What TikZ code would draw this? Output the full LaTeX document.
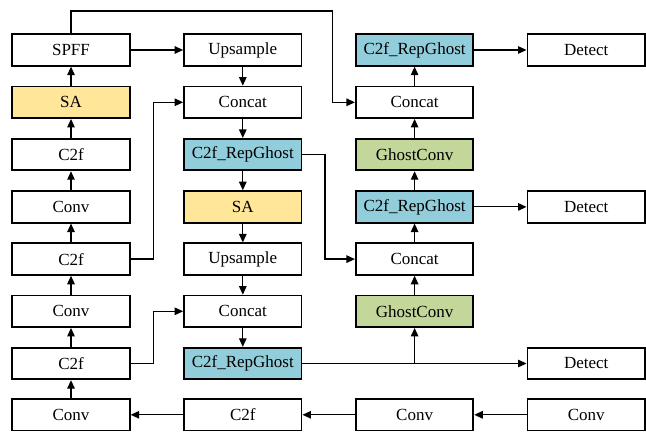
\documentclass[tikz,border=0pt]{standalone}
\usepackage{fontspec}
\setmainfont{Liberation Serif}
\newfontfamily\boxfont{Liberation Serif}
\usetikzlibrary{arrows.meta}
\definecolor{sayellow}{HTML}{FFE699}
\definecolor{rgblue}{HTML}{92CDDC}
\definecolor{ghgreen}{HTML}{C4D79B}
\tikzset{
  block/.style={draw=black, line width=1.8pt, minimum width=117.5pt, minimum height=31.5pt,
    inner sep=0pt, font=\boxfont\fontsize{17}{20}\selectfont, fill=white},
  saBlock/.style={block, fill=sayellow},
  rgBlock/.style={block, fill=rgblue},
  ghBlock/.style={block, fill=ghgreen},
  link/.style={line width=1.2pt, -{Triangle[length=8.5pt,width=7.5pt]}},
  plain/.style={line width=1.2pt}
}
\begin{document}
\begin{tikzpicture}[x=1pt,y=-1pt]
\useasboundingbox (0,0) rectangle (646,433);
% column and row positions
\def\ca{71}\def\cb{242.8}\def\cc{414.6}\def\cd{586.2}
\def\ra{50}\def\rb{102.3}\def\rc{154.6}\def\rd{206.9}
\def\re{259.1}\def\rf{311.3}\def\rg{363.5}\def\rh{414.8}

% backbone (left column)
\node[block]   (spff) at (\ca,\ra) {SPFF};
\node[saBlock] (saA)  at (\ca,\rb) {SA};
\node[block]   (cfA)  at (\ca,\rc) {C2f};
\node[block]   (cvA)  at (\ca,\rd) {Conv};
\node[block]   (cfB)  at (\ca,\re) {C2f};
\node[block]   (cvB)  at (\ca,\rf) {Conv};
\node[block]   (cfC)  at (\ca,\rg) {C2f};
\node[block]   (cvC)  at (\ca,\rh) {Conv};

% top-down path
\node[block]   (upA)  at (\cb,\ra) {Upsample};
\node[block]   (ccA)  at (\cb,\rb) {Concat};
\node[rgBlock] (rgA)  at (\cb,\rc) {C2f\_RepGhost};
\node[saBlock] (saB)  at (\cb,\rd) {SA};
\node[block]   (upB)  at (\cb,\re) {Upsample};
\node[block]   (ccB)  at (\cb,\rf) {Concat};
\node[rgBlock] (rgB)  at (\cb,\rg) {C2f\_RepGhost};
\node[block]   (cfD)  at (\cb,\rh) {C2f};

% bottom-up path
\node[rgBlock] (rgC)  at (\cc,\ra) {C2f\_RepGhost};
\node[block]   (ccC)  at (\cc,\rb) {Concat};
\node[ghBlock] (ghA)  at (\cc,\rc) {GhostConv};
\node[rgBlock] (rgD)  at (\cc,\rd) {C2f\_RepGhost};
\node[block]   (ccD)  at (\cc,\re) {Concat};
\node[ghBlock] (ghB)  at (\cc,\rf) {GhostConv};
\node[block]   (cvD)  at (\cc,\rh) {Conv};

% heads and input
\node[block]   (detA) at (\cd,\ra) {Detect};
\node[block]   (detB) at (\cd,\rd) {Detect};
\node[block]   (detC) at (\cd,\rg) {Detect};
\node[block]   (cvE)  at (\cd,\rh) {Conv};

% bottom row, right to left
\draw[link] (cvE) -- (cvD);
\draw[link] (cvD) -- (cfD);
\draw[link] (cfD) -- (cvC);

% backbone upward
\draw[link] (cvC) -- (cfC);
\draw[link] (cfC) -- (cvB);
\draw[link] (cvB) -- (cfB);
\draw[link] (cfB) -- (cvA);
\draw[link] (cvA) -- (cfA);
\draw[link] (cfA) -- (saA);
\draw[link] (saA) -- (spff);

% top-down path
\draw[link] (spff) -- (upA);
\draw[link] (upA) -- (ccA);
\draw[link] (ccA) -- (rgA);
\draw[link] (rgA) -- (saB);
\draw[link] (saB) -- (upB);
\draw[link] (upB) -- (ccB);
\draw[link] (ccB) -- (rgB);

% lateral skips from the backbone
\draw[link] (cfB.east) -- (153.3,\re) |- (ccA.west);
\draw[link] (cfC.east) -- (153.3,\rg) |- (ccB.west);

% skips into the bottom-up path
\draw[link] (spff.north) |- (332.7,11) |- (ccC.west);
\draw[link] (rgA.east) -- (325,\rc) |- (ccD.west);

% bottom-up path
\coordinate (split) at (\cc,\rg);
\draw[link] (rgB.east) -- (detC.west);
\draw[link] (split) -- (ghB.south);
\draw[link] (ghB) -- (ccD);
\draw[link] (ccD) -- (rgD);
\draw[link] (rgD) -- (ghA);
\draw[link] (ghA) -- (ccC);
\draw[link] (ccC) -- (rgC);

% detection heads
\draw[link] (rgC) -- (detA);
\draw[link] (rgD) -- (detB);
\end{tikzpicture}
\end{document}
